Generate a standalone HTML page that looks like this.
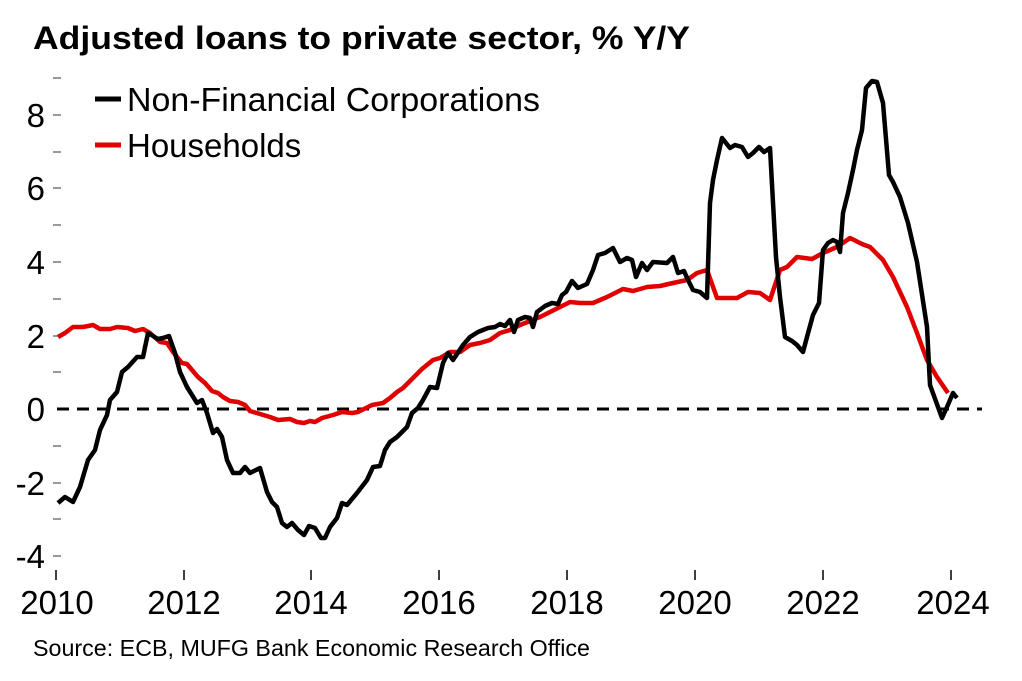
<!DOCTYPE html>
<html><head><meta charset="utf-8"><style>
html,body{margin:0;padding:0;background:#fff;width:1022px;height:681px;overflow:hidden}
svg{display:block;font-family:"Liberation Sans",Arial,sans-serif}
</style></head><body>
<svg width="1022" height="681" viewBox="0 0 1022 681" xmlns="http://www.w3.org/2000/svg">
<text x="33" y="49" font-size="32" font-weight="bold" fill="#000" textLength="657" lengthAdjust="spacingAndGlyphs">Adjusted loans to private sector, % Y/Y</text>
<g stroke="#777" stroke-width="1.5">
<line x1="53" x2="61" y1="78" y2="78"/><line x1="53" x2="61" y1="115" y2="115"/><line x1="53" x2="61" y1="152" y2="152"/><line x1="53" x2="61" y1="188" y2="188"/><line x1="53" x2="61" y1="225" y2="225"/><line x1="53" x2="61" y1="262" y2="262"/><line x1="53" x2="61" y1="299" y2="299"/><line x1="53" x2="61" y1="336" y2="336"/><line x1="53" x2="61" y1="372" y2="372"/><line x1="53" x2="61" y1="446" y2="446"/><line x1="53" x2="61" y1="483" y2="483"/><line x1="53" x2="61" y1="519" y2="519"/><line x1="53" x2="61" y1="556" y2="556"/>
</g>
<g stroke="#000" stroke-width="1.5">
<line x1="56" x2="56" y1="570" y2="580"/><line x1="184" x2="184" y1="570" y2="580"/><line x1="311" x2="311" y1="570" y2="580"/><line x1="439" x2="439" y1="570" y2="580"/><line x1="567" x2="567" y1="570" y2="580"/><line x1="695" x2="695" y1="570" y2="580"/><line x1="823" x2="823" y1="570" y2="580"/><line x1="951" x2="951" y1="570" y2="580"/>
</g>
<g font-size="33" fill="#000" text-anchor="end">
<text x="45" y="127">8</text><text x="45" y="200">6</text><text x="45" y="274">4</text><text x="45" y="348">2</text><text x="45" y="421">0</text><text x="45" y="495">-2</text><text x="45" y="568">-4</text>
</g>
<g font-size="33" fill="#000" text-anchor="middle">
<text x="57" y="614">2010</text><text x="184" y="614">2012</text><text x="311" y="614">2014</text><text x="439" y="614">2016</text><text x="567" y="614">2018</text><text x="695" y="614">2020</text><text x="823" y="614">2022</text><text x="953" y="614">2024</text>
</g>
<text x="33" y="656" font-size="23" fill="#000" textLength="557" lengthAdjust="spacingAndGlyphs">Source: ECB, MUFG Bank Economic Research Office</text>
<line x1="57" x2="982" y1="409" y2="409" stroke="#000" stroke-width="3" stroke-dasharray="12,8"/>
<polyline fill="none" stroke="#e00000" stroke-width="4.5" stroke-linejoin="round" points="58,337 65,333 73,327 83,327 93,325 100,329 110,329 117,327 128,328 135,331 143,329 150,333 160,342 167,343 173,352 182,363 187,364 192,370 198,377 205,383 212,391 218,393 223,397 230,401 238,402 245,405 250,411 260,414 270,417 278,420 290,419 297,422 304,423 310,421 315,422 322,418 333,415 342,412 352,413 358,412 372,405 383,403 390,398 397,392 403,388 412,379 422,369 433,360 440,358 450,352 460,352 470,345 480,343 490,340 500,333 510,330 520,325 530,321 540,317 550,312 560,307 570,302 580,303 593,303 607,297 623,289 633,291 647,287 660,286 673,283 687,280 697,273 707,270 717,298 727,298 737,298 748,292 760,293 770,300 780,270 787,267 797,257 812,259 823,253 837,247 850,238 862,244 870,247 883,260 893,277 907,307 917,333 927,360 937,377 948,393"/>
<polyline fill="none" stroke="#000" stroke-width="4.5" stroke-linejoin="round" points="58,503 65,497 73,502 80,487 88,460 95,450 100,430 107,415 110,400 117,392 122,372 128,367 137,357 143,357 148,333 158,339 163,338 169,336 175,353 180,372 187,387 197,403 202,400 207,413 213,433 217,429 222,437 227,460 233,473 240,473 245,467 250,473 260,468 267,492 272,502 277,507 282,523 287,527 292,523 298,530 304,535 309,526 315,528 321,538 325,538 330,527 337,518 342,503 347,505 357,493 367,480 373,467 380,466 385,450 390,442 397,437 407,427 412,413 418,408 423,400 430,387 437,388 443,363 448,353 453,360 463,345 470,337 478,332 488,328 495,327 500,324 505,326 510,320 514,332 518,320 525,317 530,318 533,327 537,312 545,306 552,303 558,304 562,295 566,292 572,281 578,288 587,284 593,270 598,255 605,253 613,248 620,262 627,258 632,260 636,277 642,263 647,270 653,262 667,263 673,257 678,273 684,271 688,280 693,290 700,292 707,298 710,203 713,180 717,160 722,138 730,148 735,145 742,147 748,157 753,153 759,147 764,152 770,148 776,257 780,297 785,337 792,341 797,345 803,352 807,337 813,315 819,303 823,250 828,243 833,240 837,242 840,252 843,213 848,193 853,170 857,150 862,130 866,88 872,81 877,82 883,103 889,175 893,182 900,197 908,223 917,262 927,327 930,385 942,418 947,407 953,393 957,398"/>
<line x1="95" x2="121" y1="99" y2="99" stroke="#000" stroke-width="5"/>
<text x="127" y="111" font-size="33" fill="#000" textLength="413" lengthAdjust="spacingAndGlyphs">Non-Financial Corporations</text>
<line x1="95" x2="121" y1="145" y2="145" stroke="#e00000" stroke-width="5"/>
<text x="127" y="157" font-size="33" fill="#000">Households</text>
</svg>
</body></html>
